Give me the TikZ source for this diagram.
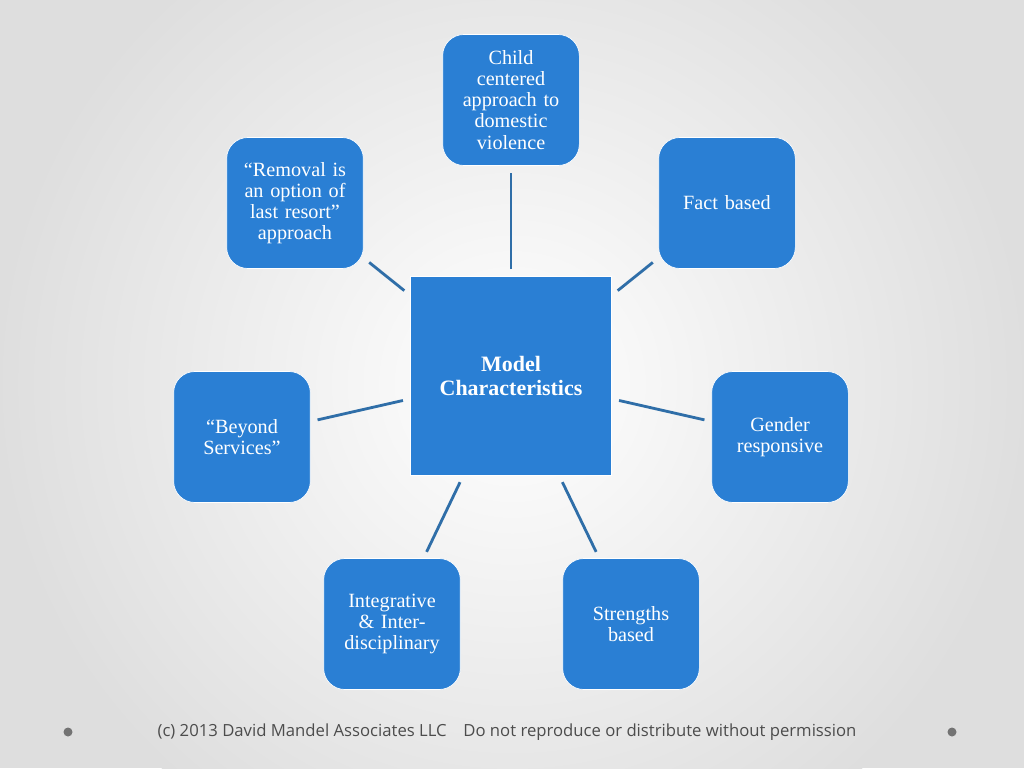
\documentclass[tikz,border=0pt]{standalone}
\usepackage{fontspec}
\setmainfont{Liberation Serif}
\newfontfamily\footfont{Open Sans}
\usetikzlibrary{positioning}
\definecolor{boxblue}{HTML}{2A7FD4}
\definecolor{linkblue}{HTML}{2F6EA8}
\tikzset{
  char/.style={draw=white, fill=boxblue, rounded corners=12pt, minimum size=2.62cm,
    text width=2.5cm, align=center, text=white, font=\fontsize{11.5}{12}\selectfont},
  core/.style={fill=boxblue, draw=white, minimum size=3.98cm, text width=3.8cm, align=center,
    text=white, font=\fontsize{12.5}{13.5}\selectfont\bfseries},
  link/.style={draw=linkblue, line width=1.6pt, shorten <=4pt, shorten >=4pt}
}
\begin{document}
\begin{tikzpicture}[x=0.02cm,y=-0.02cm]
\useasboundingbox (0,0) rectangle (1024,768);
\fill[black!13] (0,0) rectangle (1024,768);
\shade[inner color=white, outer color=black!13] (512,384) circle (520);

\node[core] (model) at (511,376) {Model\\Characteristics};
\node[char] (child) at (511,100) {Child\\centered\\approach to\\domestic\\violence};
\node[char] (fact) at (727,203) {Fact based};
\node[char] (gender) at (780,437) {Gender\\responsive};
\node[char] (strength) at (631,624) {Strengths\\based};
\node[char] (integ) at (392,624) {Integrative\\\& Inter-\\disciplinary};
\node[char] (beyond) at (242,437) {“Beyond\\Services”};
\node[char] (removal) at (295,203) {“Removal is\\an option of\\last resort”\\approach};

\draw[link] (model) -- (child);
\draw[link] (model) -- (fact);
\draw[link] (model) -- (gender);
\draw[link] (model) -- (strength);
\draw[link] (model) -- (integ);
\draw[link] (model) -- (beyond);
\draw[link] (model) -- (removal);

\node[font=\footfont\fontsize{9.5}{11}\selectfont, text=black!70] (foot) at (507,732)
  {(c) 2013 David Mandel Associates LLC\quad Do not reproduce or distribute without permission};
\fill[black!55] (68,732) circle (4.5);
\fill[black!55] (952,732) circle (4.5);
\end{tikzpicture}
\end{document}
